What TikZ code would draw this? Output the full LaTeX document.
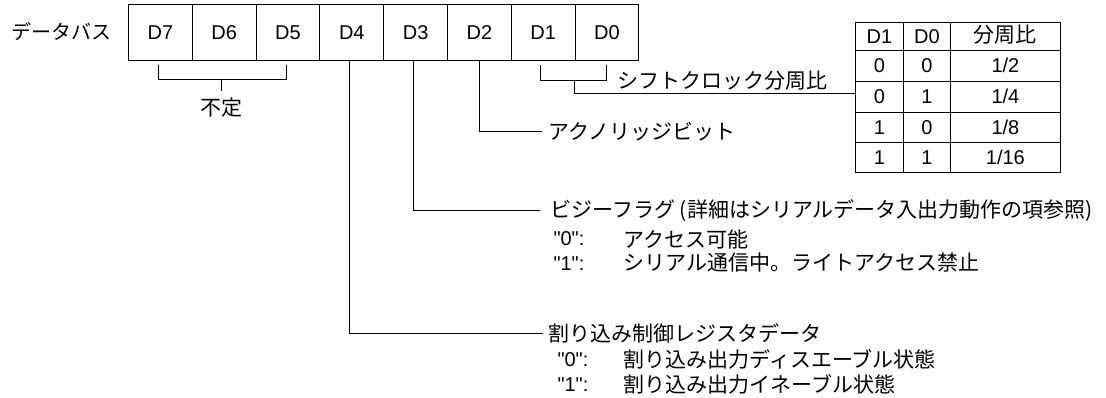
\documentclass[tikz,border=0pt]{standalone}
\usepackage{fontspec}
\setmainfont{Liberation Sans}[Ligatures=TeXOff]
\newfontfamily\jpfont{Noto Sans CJK JP}
\newcommand\jpt[1]{{\jpfont\fontsize{21}{25}\selectfont #1}}
\begin{document}
\begin{tikzpicture}[x=1pt,y=-1pt,line width=1pt,
  reg/.style={draw,minimum width=63.8pt,minimum height=56pt,inner sep=0pt,anchor=north west,
    font=\fontsize{20}{24}\selectfont,text height=14pt,text depth=0pt},
  lbl/.style={inner sep=0pt,anchor=west},
  lat/.style={inner sep=0pt,anchor=west,font=\fontsize{20}{24}\selectfont,text height=14pt,text depth=0pt},
  cell/.style={draw,line width=0.8pt,inner sep=0pt,anchor=north west,
    font=\fontsize{20}{24}\selectfont,text height=14pt,text depth=0pt},
  conn/.style={line width=1pt}]
\useasboundingbox (0,0) rectangle (1106,398);
% bus label
\node[inner sep=0pt,anchor=west] (bus) at (11,32) {{\jpfont\fontsize{20}{24}\selectfont データバス}};
% register
\foreach \n [count=\i from 0] in {7,6,5,4,3,2,1,0}
  \node[reg] (D\n) at (128+63.8*\i,4) {D\n};
% table
\node[cell,minimum width=48pt,minimum height=28pt] (h1) at (855,22) {D1};
\node[cell,minimum width=47pt,minimum height=28pt] (h2) at (903,22) {D0};
\node[cell,minimum width=110pt,minimum height=28pt,text height=15pt,text depth=3pt] (h3) at (950,22) {\jpt{分周比}};
\node[cell,minimum width=48pt,minimum height=31pt] (a1) at (855,50) {0};
\node[cell,minimum width=47pt,minimum height=31pt] (a2) at (903,50) {0};
\node[cell,minimum width=110pt,minimum height=31pt] (a3) at (950,50) {1/2};
\node[cell,minimum width=48pt,minimum height=31pt] (b1) at (855,81) {0};
\node[cell,minimum width=47pt,minimum height=31pt] (b2) at (903,81) {1};
\node[cell,minimum width=110pt,minimum height=31pt] (b3) at (950,81) {1/4};
\node[cell,minimum width=48pt,minimum height=30pt] (c1) at (855,112) {1};
\node[cell,minimum width=47pt,minimum height=30pt] (c2) at (903,112) {0};
\node[cell,minimum width=110pt,minimum height=30pt] (c3) at (950,112) {1/8};
\node[cell,minimum width=48pt,minimum height=30pt] (d1) at (855,142) {1};
\node[cell,minimum width=47pt,minimum height=30pt] (d2) at (903,142) {1};
\node[cell,minimum width=110pt,minimum height=30pt] (d3) at (950,142) {1/16};
% labels
\node[inner sep=0pt] (undef) at (221,108) {\jpt{不定}};
\node[lbl] (shift) at (617,81) {\jpt{シフトクロック分周比}};
\node[lbl] (ack) at (548,132) {\jpt{アクノリッジビット}};
\node[lbl] (busy) at (550,211) {\jpt{ビジーフラグ (詳細はシリアルデータ入出力動作の項参照)}};
\node[lat] (busy0) at (553,239) {"0":};
\node[lbl] (busy0t) at (623,239) {\jpt{アクセス可能}};
\node[lat] (busy1) at (553,263) {"1":};
\node[lbl] (busy1t) at (623,263) {\jpt{シリアル通信中。ライトアクセス禁止}};
\node[lbl] (intr) at (548,333) {\jpt{割り込み制御レジスタデータ}};
\node[lat] (intr0) at (557,359) {"0":};
\node[lbl] (intr0t) at (623,359) {\jpt{割り込み出力ディスエーブル状態}};
\node[lat] (intr1) at (557,384) {"1":};
\node[lbl] (intr1t) at (623,384) {\jpt{割り込み出力イネーブル状態}};
% connectors
\coordinate (s7) at (158,65);
\coordinate (s5) at (286,65);
\coordinate (m6) at (221,80);
\coordinate (u6) at (221,91);
\draw[conn] (s7) |- (s5 |- m6) -- (s5);
\draw[conn] (m6) -- (u6);
\coordinate (s1) at (540,65);
\coordinate (s0) at (606,65);
\coordinate (m10) at (574,81);
\draw[conn] (s1) |- (s0 |- m10) -- (s0);
\draw[conn] (m10) |- (b1.west |- 0,94);
\draw[conn] (D2.south) |- ([xshift=-6pt]ack.west);
\draw[conn] ([xshift=-2pt]D3.south) |- ([xshift=-10pt]busy.west);
\draw[conn] ([xshift=-2pt]D4.south) |- ([xshift=-5pt]intr.west);
\end{tikzpicture}
\end{document}
